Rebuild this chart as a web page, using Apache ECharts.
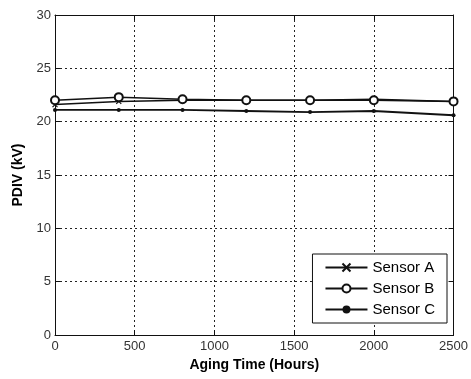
<!DOCTYPE html>
<html><head><meta charset="utf-8">
<script src="https://cdn.jsdelivr.net/npm/echarts@6/dist/echarts.min.js"></script>
<style>html,body{margin:0;padding:0;background:#fff}#c{width:471px;height:379px}</style>
</head><body><div id="c"></div>
<script>
const hours = [0, 400, 800, 1200, 1600, 2000, 2500];
const sensorA = [21.6, 21.9, 22.0, 22.0, 22.0, 22.1, 21.9];
const sensorB = [22.0, 22.3, 22.1, 22.0, 22.0, 22.0, 21.9];
const sensorC = [21.1, 21.1, 21.1, 21.0, 20.9, 21.0, 20.6];
const xTicks = [0, 500, 1000, 1500, 2000, 2500];
const yTicks = [0, 5, 10, 15, 20, 25, 30];
const names = ['Sensor A', 'Sensor B', 'Sensor C'];

const pair = arr => hours.map((h, i) => [h, arr[i]]);
const font = 'Arial, "Liberation Sans", sans-serif';
const gridLine = {show: true, lineStyle: {color: '#222', type: [2, 3], width: 1}};
const axisLine = {show: true, onZero: false, lineStyle: {color: '#111', width: 1}};

const chart = echarts.init(document.getElementById('c'));
chart.setOption({
  animation: false,
  grid: {left: 55, right: 16, top: 15, bottom: 44},
  xAxis: [{
    type: 'value', min: xTicks[0], max: xTicks[xTicks.length - 1], interval: xTicks[1] - xTicks[0],
    axisLine, axisTick: {show: true, inside: true, length: 5, lineStyle: {color: '#111'}},
    axisLabel: {color: '#333', fontFamily: font, fontSize: 13, margin: 5, formatter: v => String(v)},
    splitLine: gridLine,
    name: 'Aging Time (Hours)', nameLocation: 'middle', nameGap: 22,
    nameTextStyle: {fontFamily: font, fontWeight: 'bold', fontSize: 14, color: '#000'}
  }, {
    type: 'value', position: 'top', min: xTicks[0], max: xTicks[xTicks.length - 1], interval: xTicks[1] - xTicks[0],
    axisLine, axisTick: {show: true, inside: true, length: 5, lineStyle: {color: '#111'}},
    axisLabel: {show: false}, splitLine: {show: false}
  }],
  yAxis: [{
    type: 'value', min: yTicks[0], max: yTicks[yTicks.length - 1], interval: yTicks[1] - yTicks[0],
    axisLine, axisTick: {show: true, inside: true, length: 5, lineStyle: {color: '#111'}},
    axisLabel: {color: '#333', fontFamily: font, fontSize: 13, margin: 4},
    splitLine: gridLine,
    name: 'PDIV (kV)', nameLocation: 'middle', nameGap: 30,
    nameTextStyle: {fontFamily: font, fontWeight: 'bold', fontSize: 14, color: '#000'}
  }, {
    type: 'value', position: 'right', min: yTicks[0], max: yTicks[yTicks.length - 1], interval: yTicks[1] - yTicks[0],
    axisLine, axisTick: {show: true, inside: true, length: 5, lineStyle: {color: '#111'}},
    axisLabel: {show: false}, splitLine: {show: false}
  }],
  legend: {
    data: names, orient: 'vertical', right: 24, bottom: 56,
    backgroundColor: '#fff', borderColor: '#111', borderWidth: 1, borderRadius: 0,
    padding: [6, 12, 6, 12], itemGap: 6, itemWidth: 42, itemHeight: 10,
    textStyle: {fontFamily: font, fontSize: 15, color: '#000'}
  },
  series: [{
    name: names[0], type: 'line', data: pair(sensorA),
    symbol: 'path://M0,0L10,10M10,0L0,10', symbolSize: 5,
    lineStyle: {color: '#111', width: 1.5},
    itemStyle: {color: '#111', borderColor: '#111', borderWidth: 1.2}
  }, {
    name: names[1], type: 'line', data: pair(sensorB),
    symbol: 'emptyCircle', symbolSize: 8,
    lineStyle: {color: '#111', width: 1.5},
    itemStyle: {color: '#111', borderColor: '#111', borderWidth: 1.3}
  }, {
    name: names[2], type: 'line', data: pair(sensorC),
    symbol: 'circle', symbolSize: 4,
    lineStyle: {color: '#111', width: 1.8},
    itemStyle: {color: '#111'}
  }]
});
</script></body></html>
